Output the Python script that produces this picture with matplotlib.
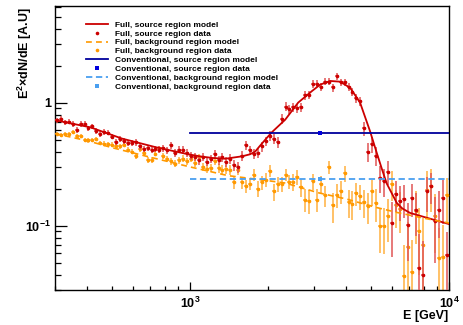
import numpy as np
import matplotlib
matplotlib.use('Agg')
import matplotlib.pyplot as plt
from matplotlib.ticker import LogLocator, NullFormatter
from matplotlib.lines import Line2D

plt.rcParams['font.family'] = ['Liberation Sans', 'DejaVu Sans']
plt.rcParams['font.weight'] = 'bold'
plt.rcParams['mathtext.fontset'] = 'custom'
plt.rcParams['mathtext.rm'] = 'Liberation Sans:bold'
plt.rcParams['mathtext.bf'] = 'Liberation Sans:bold'
plt.rcParams['mathtext.it'] = 'Liberation Sans:bold:italic'

# ---------------------------------------------------------------------------
# data (bin centres in GeV, E^2 dN/dE in arbitrary units)
# ---------------------------------------------------------------------------
energy = [
    305.3, 316.2, 327.5, 339.2, 351.3, 363.8, 376.8, 390.3, 404.2, 418.6,
    433.5, 449.0, 465.0, 481.6, 498.8, 516.6, 535.1, 554.2, 574.0, 594.4,
    615.6, 637.6, 660.4, 683.9, 708.3, 733.6, 759.8, 786.9, 815.0, 844.1,
    874.2, 905.4, 937.7, 971.2, 1005.8, 1041.8, 1079.0, 1117.5, 1157.4, 1198.7,
    1241.4, 1285.7, 1331.6, 1379.1, 1428.3, 1479.4, 1532.2, 1586.8, 1643.5, 1702.2,
    1762.8, 1825.7, 1890.9, 1958.3, 2028.2, 2100.8, 2175.7, 2253.3, 2333.8, 2417.1,
    2503.2, 2592.6, 2685.1, 2780.8, 2880.1, 2983.1, 3089.5, 3199.8, 3314.0, 3432.4,
    3554.6, 3681.5, 3812.9, 3948.9, 4089.9, 4236.1, 4387.2, 4543.8, 4705.9, 4874.0,
    5047.6, 5227.7, 5414.4, 5607.6, 5807.7, 6015.3, 6229.8, 6452.3, 6682.5, 6921.1,
    7167.7, 7423.6, 7688.5, 7963.0, 8247.0, 8541.8, 8846.5, 9162.4, 9489.3, 9828.3,
]

src_data = [
    0.72, 0.74, 0.69, 0.70, 0.67, 0.60, 0.67, 0.675, 0.62, 0.64,
    0.59, 0.56, 0.58, 0.57, 0.53, 0.48, 0.51, 0.49, 0.47, 0.47,
    0.475, 0.44, 0.42, 0.43, 0.415, 0.42, 0.415, 0.425, 0.41, 0.45,
    0.39, 0.415, 0.415, 0.39, 0.37, 0.36, 0.34, 0.36, 0.33, 0.35,
    0.38, 0.34, 0.36, 0.33, 0.35, 0.31, 0.30, 0.37, 0.45, 0.41,
    0.385, 0.39, 0.44, 0.485, 0.54, 0.51, 0.48, 0.74, 0.93, 0.89,
    0.92, 0.905, 0.92, 1.15, 1.16, 1.42, 1.43, 1.35, 1.48, 1.48,
    1.33, 1.64, 1.47, 1.47, 1.35, 1.22, 1.09, 1.03, 0.62, 0.40,
    0.46, 0.37, 0.245, 0.23, 0.275, 0.106, 0.18, 0.16, 0.165, 0.102,
    0.168, 0.133, 0.045, 0.04, 0.19, 0.21, 0.11, 0.135, 0.168, 0.058,
]
src_err = [
    0.035, 0.035, 0.034, 0.034, 0.033, 0.032, 0.033, 0.033, 0.031, 0.032,
    0.030, 0.030, 0.030, 0.029, 0.028, 0.027, 0.028, 0.027, 0.027, 0.027,
    0.027, 0.026, 0.026, 0.026, 0.025, 0.026, 0.026, 0.026, 0.026, 0.028,
    0.026, 0.027, 0.027, 0.026, 0.026, 0.026, 0.026, 0.027, 0.026, 0.027,
    0.030, 0.028, 0.030, 0.030, 0.030, 0.030, 0.030, 0.035, 0.040, 0.038,
    0.037, 0.038, 0.042, 0.045, 0.050, 0.050, 0.050, 0.065, 0.075, 0.075,
    0.078, 0.078, 0.080, 0.090, 0.090, 0.100, 0.100, 0.100, 0.100, 0.100,
    0.100, 0.110, 0.100, 0.100, 0.100, 0.095, 0.090, 0.090, 0.080, 0.070,
    0.070, 0.065, 0.060, 0.060, 0.060, 0.050, 0.050, 0.050, 0.050, 0.050,
    0.050, 0.050, 0.040, 0.035, 0.060, 0.060, 0.060, 0.055, 0.065, 0.030,
]

bkg_data = [
    0.556, 0.549, 0.556, 0.553, 0.578, 0.532, 0.532, 0.50, 0.494, 0.50,
    0.51, 0.47, 0.464, 0.461, 0.456, 0.44, 0.44, 0.456, 0.415, 0.40,
    0.366, 0.42, 0.39, 0.344, 0.344, 0.385, 0.428, 0.366, 0.35, 0.334,
    0.32, 0.34, 0.35, 0.334, 0.35, 0.323, 0.362, 0.30, 0.289, 0.294,
    0.334, 0.294, 0.285, 0.289, 0.285, 0.225, 0.285, 0.225, 0.211, 0.22,
    0.26, 0.20, 0.225, 0.237, 0.28, 0.19, 0.218, 0.218, 0.26, 0.227,
    0.227, 0.25, 0.205, 0.163, 0.16, 0.23, 0.163, 0.22, 0.176, 0.30,
    0.146, 0.179, 0.19, 0.268, 0.156, 0.151, 0.184, 0.174, 0.155, 0.144,
    0.19, 0.153, 0.10, 0.099, 0.119, 0.22, 0.146, 0.137, 0.039, 0.067,
    0.042, 0.131, 0.09, 0.07, 0.196, 0.209, 0.12, 0.055, 0.056, 0.176,
]
bkg_err = [
    0.020, 0.020, 0.020, 0.020, 0.020, 0.020, 0.020, 0.020, 0.020, 0.020,
    0.020, 0.020, 0.020, 0.020, 0.020, 0.020, 0.020, 0.020, 0.020, 0.020,
    0.020, 0.020, 0.020, 0.020, 0.020, 0.020, 0.020, 0.020, 0.020, 0.020,
    0.022, 0.022, 0.022, 0.022, 0.022, 0.022, 0.022, 0.022, 0.022, 0.022,
    0.025, 0.025, 0.025, 0.025, 0.025, 0.025, 0.025, 0.025, 0.025, 0.025,
    0.030, 0.030, 0.030, 0.030, 0.030, 0.030, 0.030, 0.030, 0.030, 0.030,
    0.035, 0.035, 0.035, 0.035, 0.035, 0.035, 0.035, 0.035, 0.035, 0.035,
    0.040, 0.040, 0.040, 0.040, 0.040, 0.040, 0.040, 0.040, 0.040, 0.040,
    0.045, 0.045, 0.040, 0.040, 0.045, 0.060, 0.050, 0.050, 0.030, 0.040,
    0.035, 0.060, 0.050, 0.045, 0.080, 0.080, 0.060, 0.040, 0.045, 0.070,
]

# full model curves
src_model_e = [300, 411, 545, 733, 983, 1100, 1220, 1365, 1584, 1700, 1782, 1850,
               1949, 2066, 2328, 2612, 2951, 3177, 3474, 3795, 4148, 4532, 4953,
               5258, 5500, 5745, 6283, 6600, 7066, 8201, 10000]
src_model = [0.72, 0.63, 0.51, 0.435, 0.38, 0.365, 0.355, 0.35, 0.366, 0.38, 0.40,
             0.44, 0.50, 0.574, 0.727, 1.0, 1.24, 1.40, 1.50, 1.48, 1.32, 1.0,
             0.585, 0.39, 0.29, 0.22, 0.153, 0.138, 0.127, 0.116, 0.103]
bkg_model_e = [300, 400, 500, 700, 1000, 1400, 2000, 2330, 3130, 4000, 5280, 6300,
               8000, 10000]
bkg_model = [0.56, 0.49, 0.43, 0.36, 0.30, 0.255, 0.232, 0.222, 0.185, 0.165,
             0.14, 0.128, 0.115, 0.105]

# conventional analysis: single flux value between 1 and 10 TeV
conv_range = [1000, 10000]
conv_e = 3180
conv_src = 0.57
conv_bkg = 0.238

labels = [
    'Full, source region model',
    'Full, source region data',
    'Full, background region model',
    'Full, background region data',
    'Conventional, source region model',
    'Conventional, source region data',
    'Conventional, background region model',
    'Conventional, background region data',
]

# ---------------------------------------------------------------------------
# colours
# ---------------------------------------------------------------------------
red = '#cc0000'
red_bar = '#e05555'
orange = '#ff9900'
orange_bar = '#ffb040'
navy = '#00009c'
blue = '#0000dd'
light_blue = '#4a9ff0'

fig = plt.figure(figsize=(4.64, 3.25), dpi=100)
ax = fig.add_axes([55 / 464, 35 / 325, 394 / 464, 284 / 325])

energy = np.array(energy)
half = np.sqrt(energy[1] / energy[0])
xerr = [energy - energy / half, energy * half - energy]

# background data
ax.errorbar(energy, bkg_data, yerr=bkg_err, xerr=xerr, fmt='none',
            ecolor=orange_bar, elinewidth=1.3, capsize=0, alpha=0.85, zorder=2)
ax.plot(energy, bkg_data, 'o', color=orange, ms=2.6, mew=0, zorder=3)

# source data
ax.errorbar(energy, src_data, yerr=src_err, xerr=xerr, fmt='none',
            ecolor=red_bar, elinewidth=1.3, capsize=0, alpha=0.85, zorder=4)
ax.plot(energy, src_data, 'o', color=red, ms=2.6, mew=0, zorder=5)

# models
ax.plot(src_model_e, src_model, color=red, lw=1.3, zorder=6)
ax.plot(bkg_model_e, bkg_model, color=orange, lw=1.2, ls=(0, (3.5, 2.5)), zorder=6)
ax.plot(conv_range, [conv_src, conv_src], color=navy, lw=1.3, zorder=7)
ax.plot(conv_range, [conv_bkg, conv_bkg], color=light_blue, lw=1.3,
        ls=(0, (3.5, 2)), zorder=7)
ax.plot([conv_e], [conv_src], 's', color=blue, ms=3.2, mew=0, zorder=8)
ax.plot([conv_e], [conv_bkg], 's', color=light_blue, ms=3.2, mew=0, zorder=8)

# axes
ax.set_xscale('log')
ax.set_yscale('log')
ax.set_xlim(300, 10000)
ax.set_ylim(0.03, 6.1)

ax.set_xticks([1000, 10000], ['$10^{3}$', '$10^{4}$'])
ax.set_yticks([0.1, 1], ['$10^{-1}$', '1'])
ax.xaxis.set_minor_locator(LogLocator(base=10, subs=np.arange(2, 10)))
ax.yaxis.set_minor_locator(LogLocator(base=10, subs=np.arange(2, 10)))
ax.xaxis.set_minor_formatter(NullFormatter())
ax.yaxis.set_minor_formatter(NullFormatter())
ax.tick_params(axis='both', which='both', direction='in', width=0.9,
               labelsize=9, top=False, right=False)
ax.tick_params(axis='x', which='major', length=6, pad=4)
ax.tick_params(axis='x', which='minor', length=3)
ax.tick_params(axis='y', which='major', length=8.5, pad=3)
ax.tick_params(axis='y', which='minor', length=4.3)
for s in ax.spines.values():
    s.set_linewidth(1.0)

fig.text(448 / 464, 3 / 325, 'E [GeV]', ha='right', va='bottom', fontsize=9,
         fontweight='bold')
fig.text(25 / 464, 1 - 7 / 325, r'E$^{2}$$\times$dN/dE [A.U]', rotation=90,
         ha='center', va='top', fontsize=9, fontweight='bold')

# legend
handles = [
    Line2D([], [], color=red, lw=1.3),
    Line2D([], [], color=red, marker='o', ms=2.6, mew=0, ls='none'),
    Line2D([], [], color=orange, lw=1.2, ls=(0, (3.5, 2.5))),
    Line2D([], [], color=orange, marker='o', ms=2.6, mew=0, ls='none'),
    Line2D([], [], color=navy, lw=1.3),
    Line2D([], [], color=blue, marker='s', ms=3.2, mew=0, ls='none'),
    Line2D([], [], color=light_blue, lw=1.3, ls=(0, (3.5, 2))),
    Line2D([], [], color=light_blue, marker='s', ms=3.2, mew=0, ls='none'),
]
ax.legend(handles, labels, loc='upper left',
          bbox_to_anchor=((86 - 55) / 394, (290 - 21) / 284),
          frameon=False, borderpad=0, borderaxespad=0, handlelength=2.7,
          handletextpad=0.8, labelspacing=0.12,
          prop={'family': 'Liberation Sans', 'weight': 'bold', 'size': 6})

fig.savefig('out.png', dpi=100)
